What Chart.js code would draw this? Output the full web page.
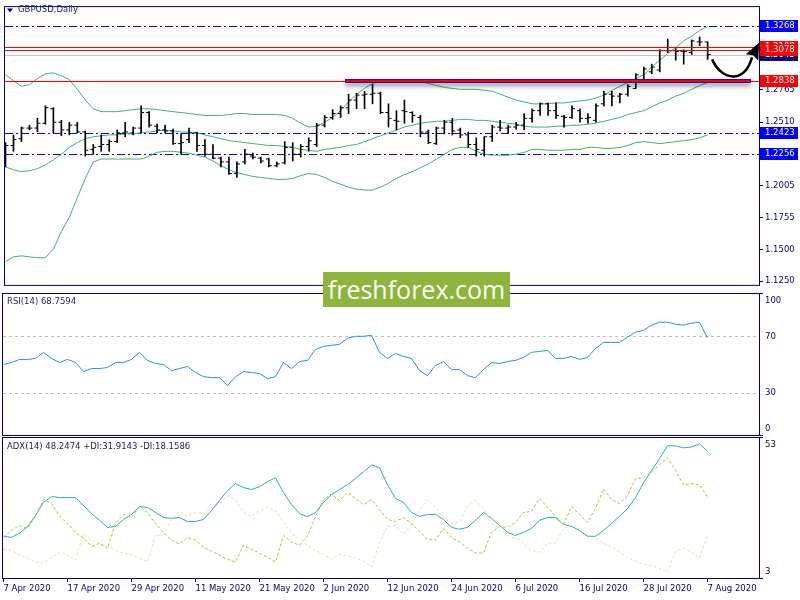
<!DOCTYPE html>
<html>
<head>
<meta charset="utf-8">
<script src="https://cdn.jsdelivr.net/npm/chart.js@4.4.0/dist/chart.umd.min.js"></script>
<style>
  body { margin: 0; background: #fff; }
  #wrap { position: relative; width: 800px; height: 600px; overflow: hidden; background: #fff; }
  canvas { position: absolute; left: 0; }
  #brand {
    position: absolute; left: 323px; top: 272px; width: 187px; height: 35px;
    background: #8db53c; color: #fff; font: 25px "Open Sans", sans-serif;
    text-align: center; line-height: 34px; z-index: 5;
  }
</style>
</head>
<body>
<div id="wrap">
  <canvas id="priceChart" width="800" height="292" style="top:0"></canvas>
  <canvas id="rsiChart" width="800" height="146" style="top:291px"></canvas>
  <canvas id="adxChart" width="800" height="164" style="top:436px"></canvas>
  <div id="brand">freshforex.com</div>
</div>
<script>
// GBPUSD daily bars, 7 Apr 2020 .. 7 Aug 2020
const opens = [1.2294,1.2325,1.2379,1.2463,1.2463,1.2501,1.2616,1.2509,1.2448,1.2486,
  1.2432,1.2294,1.2317,1.2333,1.2356,1.2425,1.2425,1.2463,1.2586,1.2478,
  1.2448,1.2440,1.2340,1.2371,1.2425,1.2325,1.2256,1.2225,1.2195,1.2103,
  1.2195,1.2241,1.2225,1.2218,1.2164,1.2187,1.2310,1.2256,1.2317,1.2333,
  1.2486,1.2547,1.2578,1.2624,1.2685,1.2724,1.2731,1.2739,1.2586,1.2524,
  1.2601,1.2586,1.2547,1.2432,1.2340,1.2463,1.2509,1.2448,1.2409,1.2333,
  1.2287,1.2394,1.2471,1.2463,1.2471,1.2486,1.2540,1.2601,1.2655,1.2601,
  1.2555,1.2547,1.2601,1.2540,1.2524,1.2655,1.2731,1.2716,1.2731,1.2777,
  1.2831,1.2908,1.2923,1.3076,1.3076,1.3069,1.3061,1.3145,1.3145];
const highs = [1.2348,1.2409,1.2471,1.2486,1.2540,1.2639,1.2624,1.2524,1.2509,1.2509,
  1.2440,1.2333,1.2409,1.2371,1.2448,1.2509,1.2471,1.2639,1.2593,1.2494,
  1.2486,1.2455,1.2417,1.2463,1.2432,1.2371,1.2333,1.2233,1.2233,1.2195,
  1.2294,1.2264,1.2233,1.2225,1.2195,1.2356,1.2348,1.2333,1.2386,1.2501,
  1.2563,1.2609,1.2639,1.2731,1.2739,1.2754,1.2808,1.2747,1.2655,1.2601,
  1.2685,1.2593,1.2563,1.2448,1.2471,1.2524,1.2540,1.2463,1.2432,1.2386,
  1.2394,1.2486,1.2524,1.2486,1.2509,1.2578,1.2616,1.2662,1.2662,1.2662,
  1.2563,1.2639,1.2616,1.2578,1.2655,1.2754,1.2754,1.2739,1.2808,1.2893,
  1.2946,1.2969,1.3084,1.3168,1.3092,1.3084,1.3161,1.3184,1.3145];
const lows = [1.2156,1.2279,1.2356,1.2448,1.2432,1.2494,1.2425,1.2402,1.2409,1.2425,
  1.2241,1.2256,1.2279,1.2279,1.2348,1.2394,1.2409,1.2425,1.2471,1.2425,
  1.2425,1.2333,1.2256,1.2348,1.2279,1.2241,1.2218,1.2156,1.2095,1.2072,
  1.2179,1.2218,1.2187,1.2156,1.2156,1.2179,1.2202,1.2233,1.2279,1.2317,
  1.2471,1.2532,1.2547,1.2578,1.2616,1.2616,1.2655,1.2578,1.2471,1.2448,
  1.2501,1.2509,1.2394,1.2340,1.2333,1.2417,1.2409,1.2386,1.2310,1.2241,
  1.2241,1.2356,1.2440,1.2425,1.2455,1.2448,1.2509,1.2563,1.2563,1.2540,
  1.2471,1.2540,1.2509,1.2501,1.2509,1.2639,1.2639,1.2662,1.2716,1.2777,
  1.2824,1.2893,1.2908,1.3061,1.3000,1.2969,1.3046,1.3115,1.3007];
const closes = [1.2325,1.2371,1.2463,1.2463,1.2501,1.2624,1.2509,1.2448,1.2486,1.2432,
  1.2287,1.2310,1.2333,1.2356,1.2425,1.2432,1.2463,1.2586,1.2486,1.2448,
  1.2440,1.2340,1.2348,1.2425,1.2325,1.2256,1.2225,1.2195,1.2103,1.2179,
  1.2256,1.2233,1.2202,1.2164,1.2179,1.2310,1.2256,1.2317,1.2363,1.2486,
  1.2547,1.2578,1.2624,1.2685,1.2724,1.2731,1.2739,1.2586,1.2540,1.2517,
  1.2593,1.2563,1.2432,1.2348,1.2463,1.2509,1.2440,1.2409,1.2333,1.2294,
  1.2394,1.2471,1.2463,1.2471,1.2486,1.2540,1.2601,1.2655,1.2601,1.2563,
  1.2547,1.2616,1.2540,1.2547,1.2639,1.2731,1.2716,1.2731,1.2793,1.2885,
  1.2931,1.2946,1.3076,1.3076,1.3069,1.3069,1.3153,1.3145,1.3045];

// Bollinger bands
const bbUpper = [1.2885,1.2839,1.2793,1.2808,1.2854,1.2893,1.2900,1.2877,1.2847,1.2770,
  1.2685,1.2616,1.2593,1.2593,1.2593,1.2601,1.2609,1.2616,1.2616,1.2609,
  1.2601,1.2593,1.2586,1.2578,1.2570,1.2563,1.2563,1.2563,1.2570,1.2578,
  1.2578,1.2570,1.2570,1.2570,1.2570,1.2563,1.2540,1.2501,1.2471,1.2478,
  1.2509,1.2547,1.2601,1.2670,1.2731,1.2777,1.2816,1.2831,1.2847,1.2847,
  1.2847,1.2839,1.2831,1.2816,1.2800,1.2785,1.2777,1.2770,1.2770,1.2770,
  1.2762,1.2754,1.2731,1.2708,1.2685,1.2670,1.2655,1.2655,1.2655,1.2662,
  1.2662,1.2670,1.2678,1.2685,1.2701,1.2724,1.2762,1.2793,1.2824,1.2854,
  1.2885,1.2946,1.3000,1.3053,1.3099,1.3153,1.3191,1.3237,1.3268];
const bbMiddle = [1.2156,1.2133,1.2118,1.2126,1.2141,1.2172,1.2210,1.2256,1.2310,1.2348,
  1.2379,1.2394,1.2402,1.2409,1.2409,1.2417,1.2417,1.2425,1.2432,1.2440,
  1.2448,1.2440,1.2432,1.2432,1.2425,1.2409,1.2394,1.2379,1.2363,1.2356,
  1.2348,1.2340,1.2333,1.2325,1.2325,1.2317,1.2310,1.2294,1.2287,1.2279,
  1.2294,1.2302,1.2310,1.2325,1.2333,1.2356,1.2379,1.2402,1.2425,1.2448,
  1.2471,1.2486,1.2501,1.2509,1.2517,1.2517,1.2524,1.2532,1.2532,1.2524,
  1.2524,1.2517,1.2509,1.2501,1.2494,1.2478,1.2471,1.2471,1.2471,1.2478,
  1.2478,1.2486,1.2486,1.2494,1.2501,1.2517,1.2532,1.2547,1.2570,1.2586,
  1.2601,1.2632,1.2662,1.2685,1.2716,1.2739,1.2770,1.2800,1.2824];
const bbLower = [1.1405,1.1443,1.1451,1.1443,1.1436,1.1436,1.1505,1.1643,1.1757,1.1911,
  1.2064,1.2195,1.2218,1.2218,1.2218,1.2218,1.2218,1.2218,1.2241,1.2271,
  1.2279,1.2279,1.2271,1.2264,1.2248,1.2233,1.2202,1.2164,1.2133,1.2110,
  1.2095,1.2080,1.2072,1.2064,1.2057,1.2057,1.2064,1.2087,1.2103,1.2095,
  1.2072,1.2041,1.2018,1.1995,1.1980,1.1972,1.1972,1.1995,1.2026,1.2064,
  1.2095,1.2118,1.2149,1.2179,1.2218,1.2256,1.2294,1.2310,1.2310,1.2279,
  1.2256,1.2248,1.2248,1.2248,1.2256,1.2271,1.2294,1.2294,1.2287,1.2287,
  1.2287,1.2294,1.2294,1.2310,1.2310,1.2302,1.2302,1.2310,1.2325,1.2348,
  1.2356,1.2348,1.2340,1.2348,1.2356,1.2363,1.2371,1.2386,1.2409];

// RSI(14)
const rsi = [50.0,51.4,53.6,53.6,54.3,58.6,54.3,51.4,53.6,51.4,
  45.0,47.1,47.1,47.9,51.4,51.4,53.6,58.6,52.9,50.7,
  50.0,45.7,47.1,48.6,44.3,41.4,40.7,40.7,35.0,41.4,
  45.0,44.3,43.6,40.0,41.4,51.4,47.1,52.1,52.9,60.7,
  62.9,63.6,64.3,68.6,70.0,70.0,70.7,58.6,54.3,57.9,
  55.7,54.3,45.7,42.1,49.3,52.1,46.4,46.4,42.1,40.7,
  46.4,51.4,50.7,52.1,52.9,55.0,58.6,59.3,60.0,54.3,
  54.3,55.7,53.6,55.0,61.4,65.7,65.7,65.7,69.3,72.9,
  74.3,77.9,80.0,80.0,78.6,77.9,79.3,80.0,68.7594];

// ADX(14), +DI, -DI
const adx = [17.9,17.5,19.0,21.4,25.3,30.0,32.1,31.7,31.7,31.7,
  28.9,26.0,23.6,21.1,21.4,23.9,25.7,28.5,28.2,26.4,
  24.6,24.3,24.6,23.2,23.2,23.9,27.1,30.7,34.2,36.7,
  35.3,34.6,35.6,37.4,38.8,33.5,29.2,26.0,24.9,26.4,
  30.0,32.8,34.6,36.3,38.5,40.9,43.4,42.4,36.3,31.4,
  30.0,26.4,25.0,25.7,25.7,23.9,21.1,20.4,21.1,23.6,
  26.4,24.3,21.8,19.3,18.2,19.3,20.7,23.6,24.6,24.6,
  22.1,21.4,20.0,17.9,17.9,20.0,22.5,25.0,27.8,31.7,
  37.0,41.3,45.6,50.2,50.2,49.5,49.8,50.9,48.2474];
const plusDI = [17.5,20.0,21.8,20.7,25.0,31.0,29.6,25.0,22.5,19.3,
  17.2,14.3,15.4,13.6,22.5,25.7,24.6,28.5,26.4,22.5,
  19.3,16.5,15.1,17.5,16.5,14.0,12.6,11.2,9.7,8.7,
  14.7,13.3,11.9,10.4,8.7,18.2,15.8,14.7,17.9,25.0,
  31.0,33.1,30.7,33.5,31.4,29.2,31.0,27.5,23.9,23.2,
  24.6,22.5,19.7,16.8,16.5,20.7,17.5,15.8,13.6,11.9,
  11.9,19.3,21.4,21.1,22.9,26.4,26.8,31.4,28.2,25.0,
  22.1,28.5,25.7,22.9,27.8,34.9,31.0,29.6,32.4,38.5,
  38.8,40.9,43.4,45.9,41.3,36.3,36.7,36.3,31.9143];
const minusDI = [13.3,12.9,11.2,10.1,8.7,8.3,10.4,12.2,11.2,9.4,
  19.0,16.5,15.4,14.3,12.9,11.9,11.2,10.1,8.7,18.2,
  18.2,23.9,26.8,25.0,26.4,26.0,27.8,29.6,32.4,31.0,
  26.4,25.0,27.1,28.2,27.1,22.9,19.0,16.8,14.7,12.9,
  11.5,9.7,11.5,10.8,10.1,9.0,6.9,15.8,21.4,21.8,
  18.6,22.1,27.1,31.0,28.2,24.6,22.5,22.9,28.5,30.7,
  27.8,22.5,20.0,18.2,17.2,15.4,12.9,12.2,15.4,15.4,
  20.7,21.8,20.7,18.2,16.8,15.4,14.0,12.2,10.4,9.0,
  8.0,7.3,6.5,5.1,12.6,13.6,12.2,10.1,18.1586];

// axis labels
const dateLabels = ['7 Apr 2020','17 Apr 2020','29 Apr 2020','11 May 2020','21 May 2020','2 Jun 2020',
  '12 Jun 2020','24 Jun 2020','6 Jul 2020','16 Jul 2020','28 Jul 2020','7 Aug 2020'];
const labelStep = 8;
const priceTicks = [1.1250, 1.1500, 1.1755, 1.2005, 1.2256, 1.2510, 1.2765, 1.3015, 1.3268];
const rsiTicks = [100, 70, 30, 0];
const rsiLevels = [70, 30];
const adxTicks = [53, 3];

// drawn levels
const blueLevels = [1.3268, 1.2423, 1.2256];
const redLevels = [1.3108, 1.3078, 1.2838];
const zoneLine = { from: 42.5, to: 93.4, price: 1.2838 };
const arrowPath = [[88.56, 1.3007], [89.81, 1.2831], [92.69, 1.2816], [93.56, 1.3023]];
const arrowTip = [94.44, 1.3138];

const NAVY = '#000080';
Chart.defaults.font.family = '"DejaVu Sans", Verdana, sans-serif';
Chart.defaults.font.size = 8.5;

const xMin = -0.0625, xMax = 94.4375;
const pts = arr => arr.map((v, i) => ({ x: i, y: v }));

function hLine(ctx, x1, x2, y) {
    ctx.beginPath();
    ctx.moveTo(x1, y);
    ctx.lineTo(x2, y);
    ctx.stroke();
}

function frame(chart) {
    const { ctx, chartArea: a } = chart;
    ctx.save();
    ctx.strokeStyle = NAVY;
    ctx.lineWidth = 1;
    ctx.strokeRect(a.left - 0.5, a.top - 0.5, a.right - a.left + 1, a.bottom - a.top + 1);
    ctx.restore();
}

function paneTitle(ctx, text, x, y) {
    ctx.save();
    ctx.fillStyle = '#1a1a66';
    ctx.font = '8.5px "DejaVu Sans", Verdana, sans-serif';
    ctx.textBaseline = 'middle';
    ctx.fillText(text, x, y);
    ctx.restore();
}

// right-side labels for the indicator panes, pulled inside the pane at its edges
function sideLabels(chart, values) {
    const { ctx, chartArea: a, scales: { y } } = chart;
    ctx.save();
    ctx.strokeStyle = NAVY;
    hLine(ctx, a.right, a.right + 4, a.top - 0.5);
    hLine(ctx, a.right, a.right + 4, a.bottom + 0.5);
    ctx.fillStyle = NAVY;
    ctx.font = '8.5px "DejaVu Sans", Verdana, sans-serif';
    ctx.textBaseline = 'middle';
    values.forEach(v => {
        const py = Math.min(Math.max(y.getPixelForValue(v), a.top + 6.5), a.bottom - 6.5);
        ctx.fillText(String(v), a.right + 6, py);
    });
    ctx.restore();
}

function priceBox(ctx, a, py, color, text) {
    ctx.fillStyle = color;
    ctx.fillRect(a.right + 1, Math.round(py) - 6, 38, 12);
    ctx.fillStyle = '#fff';
    ctx.fillText(text, a.right + 6, Math.round(py));
}

const priceDecor = {
    id: 'priceDecor',
    beforeDatasetsDraw(chart) {
        const { ctx, chartArea: a, scales: { y } } = chart;
        ctx.save();
        ctx.lineWidth = 1;
        ctx.strokeStyle = '#c8c8c8';
        hLine(ctx, a.left, a.right, Math.round(y.getPixelForValue(closes[closes.length - 1])) + 0.5);
        ctx.strokeStyle = '#0000ff';
        ctx.setLineDash([8, 3, 2, 3]);
        blueLevels.forEach(p => hLine(ctx, a.left, a.right, Math.round(y.getPixelForValue(p)) + 0.5));
        ctx.restore();
    },
    afterDatasetsDraw(chart) {
        const { ctx, chartArea: a, scales: { x, y } } = chart;
        ctx.save();
        ctx.lineWidth = 1;
        ctx.strokeStyle = '#ff0000';
        redLevels.forEach(p => hLine(ctx, a.left, a.right, Math.round(y.getPixelForValue(p)) + 0.5));
        ctx.restore();

        // selected support line with its shadow
        const x1 = Math.round(x.getPixelForValue(zoneLine.from));
        const x2 = Math.round(x.getPixelForValue(zoneLine.to));
        const zy = Math.round(y.getPixelForValue(zoneLine.price));
        ctx.save();
        ctx.shadowColor = 'rgba(0,0,0,0.45)';
        ctx.shadowBlur = 5;
        ctx.shadowOffsetY = 3;
        ctx.fillStyle = '#1414c8';
        ctx.fillRect(x1, zy - 2, x2 - x1, 4);
        ctx.restore();
        ctx.fillStyle = '#ff0000';
        ctx.fillRect(x1 + 1, zy - 1, x2 - x1 - 2, 2);

        // curved arrow
        const p = arrowPath.map(([i, v]) => [x.getPixelForValue(i), y.getPixelForValue(v)]);
        const tip = [x.getPixelForValue(arrowTip[0]), y.getPixelForValue(arrowTip[1])];
        ctx.save();
        ctx.strokeStyle = '#000';
        ctx.lineWidth = 2.5;
        ctx.beginPath();
        ctx.moveTo(p[0][0], p[0][1]);
        ctx.bezierCurveTo(p[1][0], p[1][1], p[2][0], p[2][1], p[3][0], p[3][1]);
        ctx.stroke();
        const dx = tip[0] - p[3][0], dy = tip[1] - p[3][1];
        const len = Math.hypot(dx, dy);
        const nx = -dy / len * 7, ny = dx / len * 7;
        ctx.fillStyle = '#000';
        ctx.beginPath();
        ctx.moveTo(tip[0], tip[1]);
        ctx.lineTo(p[3][0] + nx, p[3][1] + ny);
        ctx.lineTo(p[3][0] + dx * 0.15, p[3][1] + dy * 0.15);
        ctx.lineTo(p[3][0] - nx, p[3][1] - ny);
        ctx.closePath();
        ctx.fill();
        ctx.restore();
    },
    afterDraw(chart) {
        const { ctx, chartArea: a, scales: { y } } = chart;
        frame(chart);
        // title with the little menu triangle
        ctx.save();
        ctx.fillStyle = NAVY;
        ctx.beginPath();
        ctx.moveTo(7, 8.5); ctx.lineTo(13, 8.5); ctx.lineTo(10, 12.5);
        ctx.closePath();
        ctx.fill();
        ctx.restore();
        paneTitle(ctx, 'GBPUSD,Daily', 18, 10);

        // price labels on the axis
        ctx.save();
        ctx.font = '8.5px "DejaVu Sans", Verdana, sans-serif';
        ctx.textBaseline = 'middle';
        blueLevels.forEach(p => priceBox(ctx, a, y.getPixelForValue(p), '#0000ff', p.toFixed(4)));
        const last = closes[closes.length - 1];
        priceBox(ctx, a, y.getPixelForValue(last), '#101070', last.toFixed(4));
        redLevels.forEach(p => priceBox(ctx, a, y.getPixelForValue(p), '#ff0000', p.toFixed(4)));
        ctx.restore();
    }
};

new Chart(document.getElementById('priceChart'), {
    type: 'bar',
    data: {
        datasets: [
            {
                type: 'bar',
                data: closes.map((_, i) => ({ x: i, y: [lows[i], highs[i]] })),
                backgroundColor: '#000',
                barThickness: 1,
                order: 2
            },
            {
                type: 'scatter',
                data: pts(opens),
                pointStyle: 'dash',
                pointRotation: 180,
                pointRadius: 3,
                borderColor: '#000',
                pointBorderColor: '#000',
                pointBorderWidth: 1,
                order: 1
            },
            {
                type: 'scatter',
                data: pts(closes),
                pointStyle: 'dash',
                pointRotation: 0,
                pointRadius: 3,
                borderColor: '#000',
                pointBorderColor: '#000',
                pointBorderWidth: 1,
                order: 1
            },
            { type: 'line', data: pts(bbUpper), borderColor: '#3cb371', borderWidth: 1, pointRadius: 0, order: 3 },
            { type: 'line', data: pts(bbMiddle), borderColor: '#3cb371', borderWidth: 1, pointRadius: 0, order: 3 },
            { type: 'line', data: pts(bbLower), borderColor: '#3cb371', borderWidth: 1, pointRadius: 0, order: 3 }
        ]
    },
    options: {
        responsive: false,
        animation: false,
        layout: { padding: { left: 3, top: 3, bottom: 2, right: 0 } },
        plugins: { legend: { display: false }, tooltip: { enabled: false } },
        scales: {
            x: { type: 'linear', min: xMin, max: xMax, offset: false, display: false },
            y: {
                position: 'right',
                min: 1.1221,
                max: 1.3421,
                afterFit(scale) { scale.width = 41; },
                afterBuildTicks(scale) { scale.ticks = priceTicks.map(v => ({ value: v })); },
                grid: { drawOnChartArea: false, tickLength: 4, color: NAVY },
                border: { color: NAVY },
                ticks: { color: NAVY, padding: 2, callback: v => v.toFixed(4) }
            }
        }
    },
    plugins: [priceDecor]
});

const rsiDecor = {
    id: 'rsiDecor',
    beforeDatasetsDraw(chart) {
        const { ctx, chartArea: a, scales: { y } } = chart;
        ctx.save();
        ctx.strokeStyle = '#c0c0c0';
        ctx.setLineDash([3, 3]);
        rsiLevels.forEach(v => hLine(ctx, a.left, a.right, Math.round(y.getPixelForValue(v)) + 0.5));
        ctx.restore();
    },
    afterDraw(chart) {
        frame(chart);
        sideLabels(chart, rsiTicks);
        paneTitle(chart.ctx, 'RSI(14) ' + rsi[rsi.length - 1].toFixed(4), 7, 11);
    }
};

new Chart(document.getElementById('rsiChart'), {
    type: 'line',
    data: {
        datasets: [{ data: pts(rsi), borderColor: '#1e90ff', borderWidth: 1, pointRadius: 0 }]
    },
    options: {
        responsive: false,
        animation: false,
        layout: { padding: { left: 3, top: 3, bottom: 2, right: 41 } },
        plugins: { legend: { display: false }, tooltip: { enabled: false } },
        scales: {
            x: { type: 'linear', min: xMin, max: xMax, display: false },
            y: { min: 0, max: 100, display: false }
        }
    },
    plugins: [rsiDecor]
});

const adxDecor = {
    id: 'adxDecor',
    afterDraw(chart) {
        frame(chart);
        sideLabels(chart, adxTicks);
        const n = adx.length - 1;
        paneTitle(chart.ctx, 'ADX(14) ' + adx[n].toFixed(4) + ' +DI:' + plusDI[n].toFixed(4) +
            ' -DI:' + minusDI[n].toFixed(4), 7, 11);
    }
};

new Chart(document.getElementById('adxChart'), {
    type: 'line',
    data: {
        datasets: [
            { data: pts(minusDI), borderColor: '#f5d9ab', borderWidth: 1, borderDash: [3, 2], pointRadius: 0 },
            { data: pts(plusDI), borderColor: '#9acd32', borderWidth: 1, borderDash: [3, 2], pointRadius: 0 },
            { data: pts(adx), borderColor: '#20b2aa', borderWidth: 1, pointRadius: 0 }
        ]
    },
    options: {
        responsive: false,
        animation: false,
        layout: { padding: { left: 3, top: 2, bottom: 0, right: 41 } },
        plugins: { legend: { display: false }, tooltip: { enabled: false } },
        scales: {
            x: {
                type: 'linear',
                min: xMin,
                max: xMax,
                offset: false,
                afterFit(scale) { scale.height = 22; },
                afterBuildTicks(scale) { scale.ticks = dateLabels.map((_, k) => ({ value: k * labelStep })); },
                grid: { drawOnChartArea: false, tickLength: 4, color: NAVY },
                border: { color: NAVY },
                ticks: {
                    align: 'start', autoSkip: false, maxRotation: 0, color: NAVY, padding: 2,
                    callback: (v, k) => dateLabels[k]
                }
            },
            y: { min: 3, max: 53, display: false }
        }
    },
    plugins: [adxDecor]
});
</script>
</body>
</html>
